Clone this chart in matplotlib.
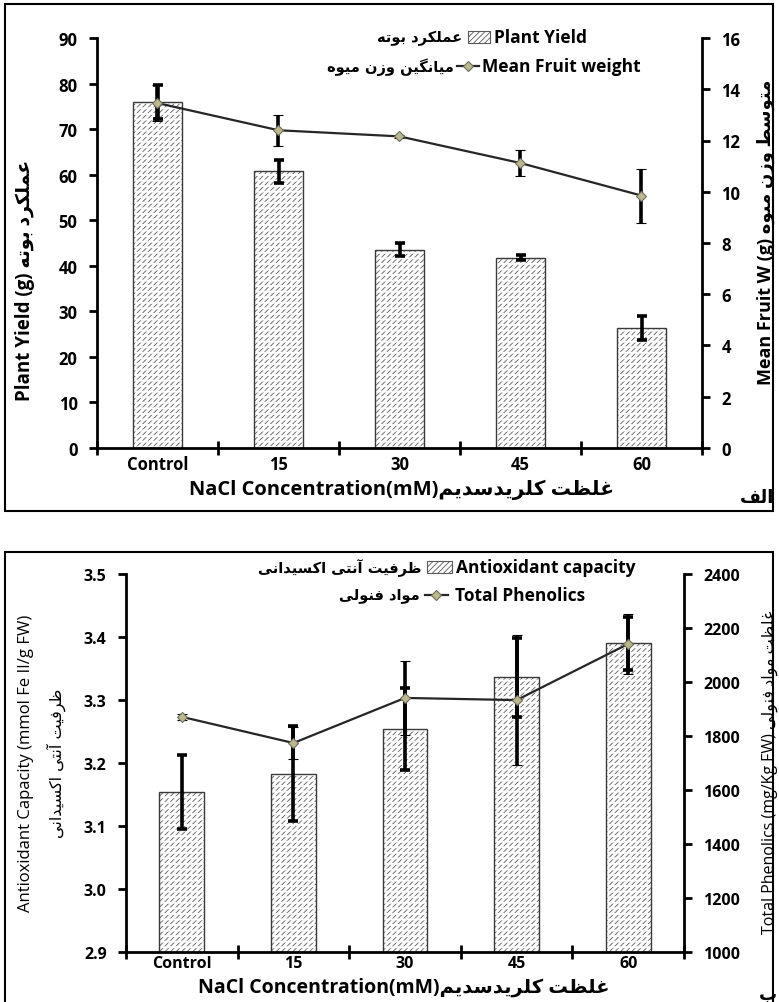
import matplotlib
matplotlib.use("Agg")
import matplotlib.pyplot as plt
import matplotlib.ticker as mticker
from matplotlib.patches import Rectangle
from matplotlib.lines import Line2D
import numpy as np

# ---------------- data ----------------
categories = ["Control", "15", "30", "45", "60"]

plant_yield = [75.9, 60.7, 43.5, 41.8, 26.3]
plant_yield_err = [3.7, 2.45, 1.4, 0.5, 2.6]
fruit_weight = [13.46, 12.40, 12.16, 11.12, 9.85]
fruit_weight_err = [0.70, 0.60, 0.05, 0.49, 1.05]

antioxidant = [3.154, 3.183, 3.254, 3.336, 3.390]
antioxidant_err = [0.058, 0.075, 0.065, 0.063, 0.042]
phenolics = [1871, 1774, 1941, 1933, 2141]
phenolics_err = [10, 59, 138, 241, 112]

# ---------------- Persian text shaping ----------------
# contextual forms: (isolated, final, initial, medial); None = does not join to the following letter
FORMS = {
    "\u0622": ("\uFE81", "\uFE82", None, None),
    "\u0627": ("\uFE8D", "\uFE8E", None, None),
    "\u0628": ("\uFE8F", "\uFE90", "\uFE91", "\uFE92"),
    "\u062A": ("\uFE95", "\uFE96", "\uFE97", "\uFE98"),
    "\u062F": ("\uFEA9", "\uFEAA", None, None),
    "\u0631": ("\uFEAD", "\uFEAE", None, None),
    "\u0632": ("\uFEAF", "\uFEB0", None, None),
    "\u0633": ("\uFEB1", "\uFEB2", "\uFEB3", "\uFEB4"),
    "\u0637": ("\uFEC1", "\uFEC2", "\uFEC3", "\uFEC4"),
    "\u0638": ("\uFEC5", "\uFEC6", "\uFEC7", "\uFEC8"),
    "\u0639": ("\uFEC9", "\uFECA", "\uFECB", "\uFECC"),
    "\u063A": ("\uFECD", "\uFECE", "\uFECF", "\uFED0"),
    "\u0641": ("\uFED1", "\uFED2", "\uFED3", "\uFED4"),
    "\u0644": ("\uFEDD", "\uFEDE", "\uFEDF", "\uFEE0"),
    "\u0645": ("\uFEE1", "\uFEE2", "\uFEE3", "\uFEE4"),
    "\u0646": ("\uFEE5", "\uFEE6", "\uFEE7", "\uFEE8"),
    "\u0647": ("\uFEE9", "\uFEEA", "\uFEEB", "\uFEEC"),
    "\u0648": ("\uFEED", "\uFEEE", None, None),
    "\u06A9": ("\uFB8E", "\uFB8F", "\uFB90", "\uFB91"),
    "\u06AF": ("\uFB92", "\uFB93", "\uFB94", "\uFB95"),
    "\u06CC": ("\uFBFC", "\uFBFD", "\uFBFE", "\uFBFF"),
}


def rtl(text):
    """Shape Persian letters into joined forms and return them in visual (left-to-right) order."""
    out = []
    n = len(text)
    for i, ch in enumerate(text):
        if ch not in FORMS:
            out.append(ch)
            continue
        prev = text[i - 1] if i > 0 else ""
        nxt = text[i + 1] if i < n - 1 else ""
        join_prev = prev in FORMS and FORMS[prev][2] is not None
        join_next = nxt in FORMS and FORMS[ch][2] is not None
        iso, fin, ini, med = FORMS[ch]
        if join_prev and join_next:
            out.append(med)
        elif join_prev:
            out.append(fin)
        elif join_next:
            out.append(ini)
        else:
            out.append(iso)
    return "".join(reversed(out))


# ---------------- style ----------------
LAT = ["Open Sans", "DejaVu Sans"]
FA = ["DejaVu Sans"]
plt.rcParams["font.family"] = LAT
plt.rcParams["hatch.linewidth"] = 0.6

W, H = 779, 1003
fig = plt.figure(figsize=(W / 100, H / 100), dpi=100)


def fx(x):
    return x / W


def fy(y):
    return 1 - y / H


def hatched_bars(ax, x, vals, err):
    ax.bar(x, vals, width=0.4, color="white", edgecolor="#5a5a5a",
           hatch="//////", linewidth=0, zorder=2)
    over = ax.bar(x, vals, width=0.4, facecolor="none", edgecolor="white",
                  hatch="---", linewidth=0, zorder=2.1)
    for p in over:
        if hasattr(p, "set_hatch_linewidth"):
            p.set_hatch_linewidth(1.4)
    ax.bar(x, vals, width=0.4, fill=False, edgecolor="#3a3a3a",
           linewidth=1.0, zorder=2.2)
    ax.errorbar(x, vals, yerr=err, fmt="none", ecolor="black",
                elinewidth=2.6, capsize=3.5, capthick=2.6, zorder=3)


def line_series(ax, x, vals, err):
    ax.errorbar(x, vals, yerr=err, color="#262626", lw=1.6, marker="D", ms=5,
                mfc="#bdb78f", mec="#6e6e5c", mew=0.8, ecolor="black",
                elinewidth=2.6, capsize=3.5, capthick=2.6, zorder=4)


def style_axes(ax, ax2, x, yticks_l, yticks_r, xpad, size):
    ax.set_xlim(-0.5, len(x) - 0.5)
    ax.set_xticks(x)
    ax.set_xticklabels(categories, fontsize=size, fontweight="bold")
    ax.tick_params(axis="x", which="major", length=0, pad=xpad)
    ax.set_xticks(np.arange(-0.5, len(x), 1.0), minor=True)
    ax.tick_params(axis="x", which="minor", length=10, width=2,
                   direction="inout")
    ax.set_yticks(yticks_l)
    ax2.set_yticks(yticks_r)
    for a in (ax, ax2):
        a.tick_params(axis="y", direction="out", length=6, width=2,
                      labelsize=size, pad=8)
        a.spines["top"].set_visible(False)
    ax.spines["right"].set_visible(False)
    ax2.spines["left"].set_visible(False)
    ax2.spines["bottom"].set_visible(False)
    ax.spines["left"].set_linewidth(2)
    ax.spines["bottom"].set_linewidth(2)
    ax2.spines["right"].set_linewidth(2)


def bold_ticks(*axes):
    for a in axes:
        for lab in a.get_yticklabels() + a.get_xticklabels():
            lab.set_fontweight("bold")


x = np.arange(len(categories))

# ---------------- panel 1: yield & fruit weight ----------------
ax1 = fig.add_axes([fx(97), fy(449), fx(702) - fx(97), fy(39) - fy(449)])
ax1b = ax1.twinx()
hatched_bars(ax1, x, plant_yield, plant_yield_err)
line_series(ax1b, x, fruit_weight, fruit_weight_err)
ax1.set_ylim(0, 90)
ax1b.set_ylim(0, 16)
style_axes(ax1, ax1b, x, np.arange(0, 91, 10), np.arange(0, 17, 2), 5, 12)
bold_ticks(ax1, ax1b)

fig.text(fx(25), fy(280), "Plant Yield (g) " + rtl("عملکرد بوته"),
         rotation=90, ha="center", va="center", fontsize=13.5,
         fontweight="bold", family=LAT)
fig.text(fx(766), fy(232), "Mean Fruit W (g) " + rtl("متوسط وزن میوه"),
         rotation=90, ha="center", va="center", fontsize=13,
         fontweight="bold", family=LAT)
fig.text(fx(402), fy(490), "NaCl Concentration(mM)" + rtl("غلظت کلریدسدیم"),
         ha="center", va="center", fontsize=14.5, fontweight="bold", family=LAT)

# legend
fig.text(fx(462), fy(38), rtl("عملکرد بوته"), ha="right", va="center",
         fontsize=10.5, fontweight="bold", family=FA)
fig.patches.append(Rectangle((fx(468), fy(44)), fx(490) - fx(468), fy(32) - fy(44),
                             transform=fig.transFigure, facecolor="white",
                             edgecolor="#5a5a5a", hatch="//////", lw=0.8))
fig.text(fx(494), fy(38), "Plant Yield", ha="left", va="center",
         fontsize=12.5, fontweight="bold")
fig.text(fx(454), fy(67), rtl("میانگین وزن میوه"), ha="right", va="center",
         fontsize=10.5, fontweight="bold", family=FA)
fig.lines.append(Line2D([fx(457), fx(479)], [fy(67), fy(67)], transform=fig.transFigure,
                        color="#262626", lw=1.6))
fig.lines.append(Line2D([fx(468)], [fy(67)], transform=fig.transFigure, marker="D",
                        ms=5, mfc="#bdb78f", mec="#6e6e5c", mew=0.8, ls="none"))
fig.text(fx(482), fy(67), "Mean Fruit weight", ha="left", va="center",
         fontsize=12.5, fontweight="bold")

fig.text(fx(757), fy(498), rtl("الف"), ha="center", va="center",
         fontsize=13, fontweight="bold", family=FA)

# ---------------- panel 2: antioxidant capacity & phenolics ----------------
ax2 = fig.add_axes([fx(126), fy(953), fx(684) - fx(126), fy(575) - fy(953)])
ax2b = ax2.twinx()
hatched_bars(ax2, x, antioxidant, antioxidant_err)
line_series(ax2b, x, phenolics, phenolics_err)
ax2.set_ylim(2.9, 3.5)
ax2b.set_ylim(1000, 2400)
style_axes(ax2, ax2b, x, np.round(np.arange(2.9, 3.51, 0.1), 1),
           np.arange(1000, 2401, 200), 2, 11.5)
ax2.yaxis.set_major_formatter(mticker.FormatStrFormatter("%.1f"))
bold_ticks(ax2, ax2b)

fig.text(fx(26), fy(763), "Antioxidant Capacity (mmol Fe II/g FW)",
         rotation=90, ha="center", va="center", fontsize=12, family=LAT)
fig.text(fx(56), fy(763), rtl("ظرفیت آنتی اکسیدانی"),
         rotation=90, ha="center", va="center", fontsize=11.5, family=FA)
fig.text(fx(770), fy(772), "Total Phenolics (mg/Kg FW) " + rtl("غلظت مواد فنولی"),
         rotation=90, ha="center", va="center", fontsize=11.5, family=LAT)
fig.text(fx(404), fy(988), "NaCl Concentration(mM)" + rtl("غلظت کلریدسدیم"),
         ha="center", va="center", fontsize=14, fontweight="bold", family=LAT)

# legend
fig.text(fx(421), fy(568), rtl("ظرفیت آنتی اکسیدانی"), ha="right", va="center",
         fontsize=10.5, fontweight="bold", family=FA)
fig.patches.append(Rectangle((fx(427), fy(574)), fx(452) - fx(427), fy(562) - fy(574),
                             transform=fig.transFigure, facecolor="white",
                             edgecolor="#5a5a5a", hatch="//////", lw=0.8))
fig.text(fx(456), fy(568), "Antioxidant capacity", ha="left", va="center",
         fontsize=12.5, fontweight="bold")
fig.text(fx(420), fy(596), rtl("مواد فنولی"), ha="right", va="center",
         fontsize=10.5, fontweight="bold", family=FA)
fig.lines.append(Line2D([fx(425), fx(448)], [fy(596), fy(596)], transform=fig.transFigure,
                        color="#262626", lw=1.6))
fig.lines.append(Line2D([fx(436)], [fy(596)], transform=fig.transFigure, marker="D",
                        ms=5, mfc="#bdb78f", mec="#6e6e5c", mew=0.8, ls="none"))
fig.text(fx(455), fy(596), "Total Phenolics", ha="left", va="center",
         fontsize=12.5, fontweight="bold")

fig.text(fx(768), fy(995), rtl("ب"), ha="center", va="center",
         fontsize=13, fontweight="bold", family=FA)

# ---------------- panel frames ----------------
fig.patches.append(Rectangle((fx(5), fy(512)), fx(773) - fx(5), fy(5) - fy(512),
                             transform=fig.transFigure, fill=False,
                             edgecolor="black", lw=1.5))
fig.patches.append(Rectangle((fx(5), fy(1010)), fx(773) - fx(5), fy(553) - fy(1010),
                             transform=fig.transFigure, fill=False,
                             edgecolor="black", lw=1.5))

fig.savefig("out.png", dpi=100, facecolor="white")
